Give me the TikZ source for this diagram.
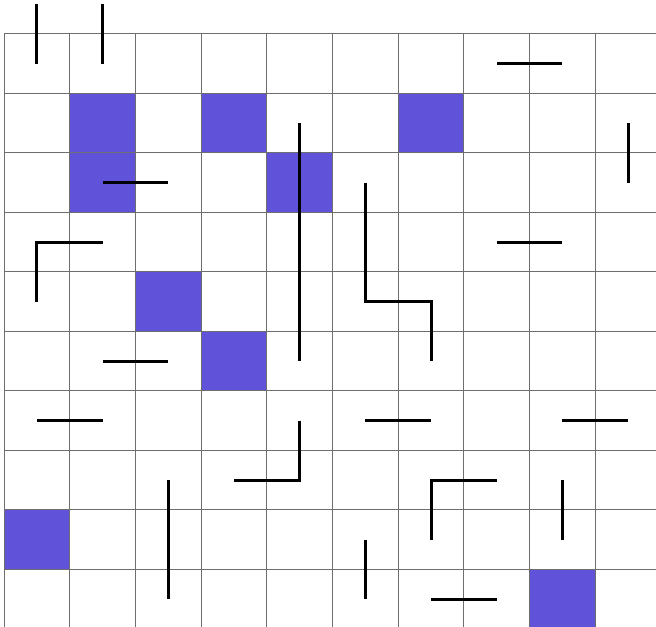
\documentclass[tikz,border=0pt]{standalone}
\usepackage{tikz}
\definecolor{cellblue}{HTML}{6153D9}
\definecolor{gridgray}{HTML}{6E6E6E}

\begin{document}
\begin{tikzpicture}[x=32.85pt, y=-29.75pt,
    gridline/.style={gridgray, line width=0.5pt},
    wall/.style={black, line width=1.5pt}]
    % ── FRAME ─────────────────────────────────────────────────────────
    \useasboundingbox (-0.061,-0.571) rectangle (9.924,9.966);
    \clip (-0.061,-0.571) rectangle (9.924,9.966);

    % ── FILLED CELLS ──────────────────────────────────────────────────
    \foreach \c/\r in {1/1, 3/1, 6/1, 1/2, 4/2, 2/4, 3/5, 0/8, 8/9}{
        \fill[cellblue] (\c, \r) rectangle ++(1, 1);
    }

    % ── GRID ──────────────────────────────────────────────────────────
    \foreach \i in {0,...,10}{
        \draw[gridline] (\i, 0) -- (\i, 10);
        \draw[gridline] (0, \i) -- (10, \i);
    }

    % ── WALLS ─────────────────────────────────────────────────────────
    \draw[wall] (0.5, -0.5) -- (0.5, 0.5);
    \draw[wall] (1.5, -0.5) -- (1.5, 0.5);
    \draw[wall] (7.5, 0.5) -- (8.5, 0.5);
    \draw[wall] (9.5, 1.5) -- (9.5, 2.5);
    \draw[wall] (4.5, 1.5) -- (4.5, 5.5);
    \draw[wall] (1.5, 2.5) -- (2.5, 2.5);
    \draw[wall] (5.5, 2.5) -- (5.5, 4.5) -- (6.5, 4.5) -- (6.5, 5.5);
    \draw[wall] (0.5, 4.5) -- (0.5, 3.5) -- (1.5, 3.5);
    \draw[wall] (7.5, 3.5) -- (8.5, 3.5);
    \draw[wall] (1.5, 5.5) -- (2.5, 5.5);
    \draw[wall] (0.5, 6.5) -- (1.5, 6.5);
    \draw[wall] (5.5, 6.5) -- (6.5, 6.5);
    \draw[wall] (8.5, 6.5) -- (9.5, 6.5);
    \draw[wall] (4.5, 6.5) -- (4.5, 7.5) -- (3.5, 7.5);
    \draw[wall] (2.5, 7.5) -- (2.5, 9.5);
    \draw[wall] (6.5, 8.5) -- (6.5, 7.5) -- (7.5, 7.5);
    \draw[wall] (8.5, 7.5) -- (8.5, 8.5);
    \draw[wall] (5.5, 8.5) -- (5.5, 9.5);
    \draw[wall] (6.5, 9.5) -- (7.5, 9.5);
\end{tikzpicture}
\end{document}
